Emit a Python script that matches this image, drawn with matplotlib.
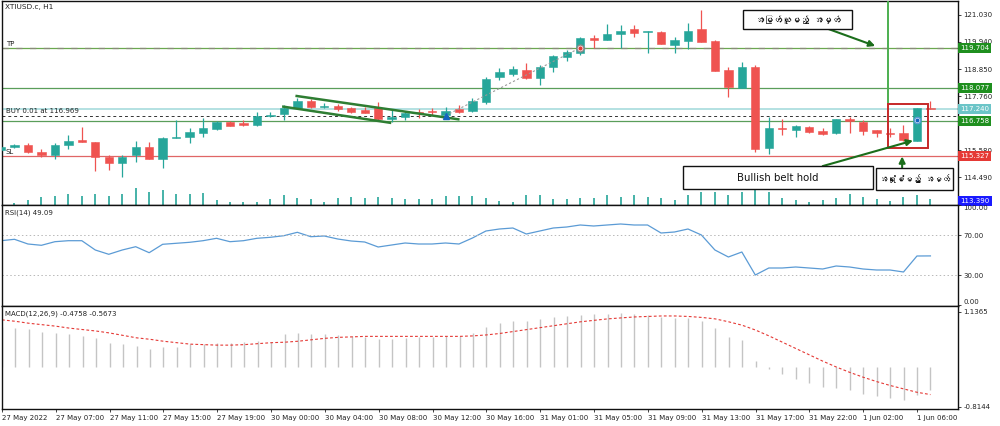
import numpy as np
import matplotlib
matplotlib.use("Agg")
import matplotlib.pyplot as plt
from matplotlib import font_manager
from matplotlib.ft2font import FT2Font
from matplotlib.patches import Rectangle

# ---------------- data ----------------
opens = [115.58, 115.69, 115.78, 115.51, 115.36, 115.78, 115.97, 115.90, 115.31, 115.04,
         115.36, 115.69, 115.23, 116.08, 116.10, 116.28, 116.42, 116.72, 116.66, 116.57,
         116.96, 117.02, 117.26, 117.57, 117.30, 117.36, 117.26, 117.20, 117.26, 116.85,
         116.91, 117.13, 117.15, 117.00, 117.22, 117.16, 117.53, 118.54, 118.65, 118.81,
         118.47, 118.94, 119.35, 119.51, 120.11, 120.02, 120.25, 120.45, 120.35, 120.36,
         119.82, 119.99, 120.45, 120.00, 118.81, 118.10, 118.94, 115.65, 116.44, 116.39,
         116.52, 116.35, 116.25, 116.85, 116.72, 116.39, 116.28, 116.28, 115.96, 117.26]
highs = [115.75, 115.82, 115.87, 115.61, 115.87, 116.18, 116.52, 115.92, 115.38, 115.38,
         115.94, 115.91, 116.10, 116.79, 116.45, 116.86, 116.76, 116.77, 116.79, 117.13,
         117.13, 117.40, 117.67, 117.62, 117.49, 117.44, 117.33, 117.33, 117.53, 117.20,
         117.13, 117.22, 117.26, 117.33, 117.39, 117.67, 118.54, 118.90, 118.96, 119.11,
         119.01, 119.41, 119.60, 120.13, 120.22, 120.67, 120.63, 120.63, 120.39, 120.37,
         120.15, 120.72, 121.23, 120.01, 118.94, 119.14, 119.01, 116.92, 116.82, 116.59,
         116.55, 116.46, 116.82, 116.90, 116.79, 116.39, 116.46, 116.59, 117.27, 117.55]
lows = [115.52, 115.66, 115.45, 115.31, 115.20, 115.61, 115.89, 114.74, 114.77, 114.48,
        115.11, 115.21, 114.84, 116.05, 115.85, 116.10, 116.40, 116.55, 116.56, 116.56,
        116.93, 116.79, 117.25, 117.29, 117.29, 117.16, 117.06, 117.06, 116.79, 116.72,
        116.79, 116.86, 116.99, 116.93, 117.06, 117.13, 117.44, 118.41, 118.55, 118.43,
        118.20, 118.74, 119.19, 119.41, 119.69, 120.02, 119.69, 120.13, 119.48, 119.84,
        119.48, 119.65, 119.93, 118.75, 117.73, 118.07, 115.51, 115.42, 116.19, 116.12,
        116.26, 116.19, 116.21, 116.25, 116.19, 116.09, 116.09, 115.96, 115.95, 117.22]
closes = [115.69, 115.78, 115.49, 115.38, 115.78, 115.94, 115.90, 115.31, 115.04, 115.31,
          115.69, 115.23, 116.08, 116.12, 116.32, 116.45, 116.72, 116.56, 116.57, 116.94,
          117.00, 117.26, 117.57, 117.30, 117.37, 117.24, 117.10, 117.09, 116.83, 116.91,
          117.07, 117.06, 117.10, 117.15, 117.10, 117.57, 118.43, 118.74, 118.85, 118.47,
          118.94, 119.38, 119.55, 120.09, 120.02, 120.25, 120.40, 120.29, 120.38, 119.86,
          120.02, 120.40, 119.95, 118.77, 118.11, 118.94, 115.61, 116.45, 116.42, 116.55,
          116.32, 116.23, 116.82, 116.76, 116.36, 116.25, 116.23, 115.98, 117.26, 117.24]
volumes = [600, 200, 500, 800, 900, 1100, 900, 1100, 900, 1100,
           1700, 1300, 1500, 1100, 1100, 1200, 500, 300, 300, 300,
           600, 1000, 700, 600, 300, 700, 800, 700, 800, 700,
           600, 600, 600, 900, 900, 900, 700, 400, 300, 1000,
           1000, 600, 600, 700, 700, 1000, 800, 1000, 800, 700,
           500, 1000, 1300, 1300, 1000, 1300, 1500, 1300, 700, 500,
           300, 500, 700, 1100, 800, 600, 400, 800, 1000, 600]
rsi = [64.3, 65.7, 61.0, 59.7, 63.3, 64.3, 64.3, 55.0, 50.7, 55.0,
       58.3, 52.3, 60.7, 61.7, 62.7, 64.3, 66.7, 63.3, 64.3, 66.7,
       67.7, 69.3, 72.7, 68.3, 69.0, 66.0, 64.0, 63.0, 58.0, 60.0,
       62.0, 61.0, 61.0, 62.0, 61.0, 67.0, 74.0, 76.0, 77.0, 71.0,
       74.0, 77.0, 78.0, 80.0, 79.0, 80.0, 81.0, 80.0, 80.0, 72.0,
       73.0, 76.0, 70.0, 55.0, 48.0, 53.0, 30.0, 37.0, 37.0, 38.0,
       37.0, 36.0, 39.0, 38.0, 36.0, 35.0, 35.0, 33.0, 49.0, 49.09]
macd_main = [0.82, 0.80, 0.78, 0.71, 0.69, 0.67, 0.64, 0.59, 0.50, 0.47,
             0.44, 0.38, 0.41, 0.42, 0.47, 0.47, 0.50, 0.50, 0.52, 0.54,
             0.52, 0.67, 0.69, 0.68, 0.67, 0.66, 0.64, 0.62, 0.58, 0.58,
             0.60, 0.61, 0.62, 0.63, 0.63, 0.70, 0.82, 0.90, 0.95, 0.95,
             0.98, 1.02, 1.05, 1.08, 1.09, 1.10, 1.11, 1.10, 1.08, 1.03,
             1.00, 1.00, 0.95, 0.80, 0.62, 0.55, 0.12, -0.05, -0.15, -0.25,
             -0.33, -0.41, -0.44, -0.48, -0.55, -0.60, -0.64, -0.68, -0.58, -0.4758]
macd_signal = [0.97, 0.94, 0.90, 0.87, 0.84, 0.80, 0.77, 0.74, 0.70, 0.65,
               0.60, 0.57, 0.53, 0.50, 0.47, 0.46, 0.45, 0.45, 0.46, 0.48,
               0.50, 0.51, 0.53, 0.56, 0.59, 0.61, 0.62, 0.63, 0.63, 0.63,
               0.63, 0.63, 0.63, 0.63, 0.63, 0.64, 0.66, 0.69, 0.73, 0.77,
               0.81, 0.85, 0.89, 0.93, 0.96, 0.99, 1.01, 1.03, 1.04, 1.05,
               1.05, 1.04, 1.02, 0.99, 0.93, 0.86, 0.76, 0.64, 0.51, 0.38,
               0.25, 0.12, 0.00, -0.11, -0.21, -0.30, -0.38, -0.45, -0.52, -0.5673]
x_tick_bars = [0, 4, 8, 12, 16, 20, 24, 28, 32, 36, 40, 44, 48, 52, 56, 60, 64, 68]
x_tick_labels = ["27 May 2022", "27 May 07:00", "27 May 11:00", "27 May 15:00", "27 May 19:00",
                 "30 May 00:00", "30 May 04:00", "30 May 08:00", "30 May 12:00", "30 May 16:00",
                 "31 May 01:00", "31 May 05:00", "31 May 09:00", "31 May 13:00", "31 May 17:00",
                 "31 May 22:00", "1 Jun 02:00", "1 Jun 06:00"]
price_ticks = [121.030, 119.940, 118.850, 117.760, 115.580, 114.490]
tp_price = 119.704
level_high = 118.077
bid_price = 117.240
buy_price = 116.969
level_low = 116.758
sl_price = 115.327
vol_label = 113.390
flag_upper = ([21.95, 33.95], [117.76, 116.82])
flag_lower = ([20.96, 28.88], [117.33, 116.68])
trade_bars = [33, 43]

# ---------------- fonts ----------------
def find_font_for(ch):
    for path in sorted(font_manager.findSystemFonts()):
        try:
            f = FT2Font(path)
            if ord(ch) in f.get_charmap():
                return path
        except Exception:
            pass
    return None

my_path = find_font_for("\u1021")
if my_path:
    font_manager.fontManager.addfont(my_path)
    my_family = [font_manager.FontProperties(fname=my_path).get_name(), "DejaVu Sans"]
else:
    my_family = ["DejaVu Sans"]

plt.rcParams["font.family"] = ["DejaVu Sans"]
FS = 5.0
TXT = "#222222"
UP = "#26a69a"
DN = "#ef5350"

W, H = 1000, 426
fig = plt.figure(figsize=(10, 4.26), dpi=100)
fig.patch.set_facecolor("white")

def px_axes(x0, y0, x1, y1, **kw):
    return fig.add_axes([x0 / W, 1 - y1 / H, (x1 - x0) / W, (y1 - y0) / H], **kw)

SP = 13.47
XL = ((2 - 1) / SP, (958 - 1) / SP)

ax_vol = px_axes(2, 1, 958, 205)
ax = px_axes(2, 1, 958, 205)
ax_rsi = px_axes(2, 205, 958, 306)
ax_macd = px_axes(2, 306, 958, 409)

for a in (ax, ax_rsi, ax_macd, ax_vol):
    a.set_xlim(*XL)

x = np.arange(len(opens))
o = np.array(opens); h = np.array(highs); l = np.array(lows); c = np.array(closes)
cols = np.where(c >= o, UP, DN)

# volume
ax_vol.set_ylim(0, 20400)
ax_vol.vlines(x, 0, volumes, colors=UP, lw=1.2)
ax_vol.axis("off")

# main
ax.patch.set_alpha(0)
ax.set_ylim(113.36, 121.595)
ax.vlines(x, l, h, colors=cols, lw=0.9, zorder=3)
body_lo = np.minimum(o, c)
body_h = np.maximum(np.abs(c - o), 0.035)
ax.bar(x, body_h, bottom=body_lo, width=0.62, color=cols, edgecolor=cols, lw=0.4, zorder=4)

ax.axhline(tp_price, color="#6aa84f", lw=0.9, zorder=2)
ax.axhline(tp_price, color="#8a8a7a", lw=0.9, ls=(0, (5, 6)), zorder=2)
ax.axhline(level_high, color="#5a9e5a", lw=0.9, zorder=2)
ax.axhline(bid_price, color="#9fd8da", lw=1.1, zorder=2)
ax.axhline(buy_price, color="#333333", lw=0.7, ls=(0, (3, 3)), zorder=2)
ax.axhline(level_low, color="#5a9e5a", lw=0.9, zorder=2)
ax.axhline(sl_price, color="#e06666", lw=0.9, zorder=2)

ax.plot(*flag_upper, color="#2e7d32", lw=1.8, zorder=5)
ax.plot(*flag_lower, color="#2e7d32", lw=1.8, zorder=5)
ax.plot(trade_bars, [buy_price, tp_price], color="#999999", lw=0.8, ls=(0, (2, 2)), zorder=5)
ax.plot([trade_bars[0]], [buy_price], marker="^", color="#1565c0", ms=4, zorder=6)
ax.plot([trade_bars[1]], [tp_price], marker="o", mfc="white", mec="#888", ms=5, zorder=6)
ax.plot([trade_bars[1]], [tp_price], marker="o", color="#e53935", ms=2, zorder=7)
ax.plot([68], [116.79], marker="o", mfc="white", mec="#5b9bd5", ms=4.5, zorder=6)
ax.plot([68], [116.79], marker="o", color="#1565c0", ms=1.8, zorder=7)

# vertical line and rectangle
ax.plot([65.85, 65.85], [117.44, 121.7], color="#4caf50", lw=1.4, zorder=5, clip_on=True)
ax.add_patch(Rectangle((65.85, 115.67), 68.82 - 65.85, 117.44 - 115.67, fill=False,
                       ec="#c62828", lw=1.4, zorder=6))

# left labels
def left_label(a, price, txt):
    a.annotate(txt, xy=(0.004, price), xycoords=("axes fraction", "data"), xytext=(0, 0.8),
               textcoords="offset points", va="bottom", ha="left", fontsize=FS, color=TXT, zorder=8)
left_label(ax, tp_price, "TP")
left_label(ax, buy_price, "BUY 0.01 at 116.969")
left_label(ax, sl_price, "SL")
ax.text(0.003, 0.985, "XTIUSD.c, H1", transform=ax.transAxes, va="top", ha="left",
        fontsize=FS + 0.3, color=TXT)

# annotation boxes
def box(a, x0, x1, y0, y1, txt, fs, bold, fam):
    a.add_patch(Rectangle((x0, y0), x1 - x0, y1 - y0, fc="white", ec="#111", lw=1.0, zorder=9))
    a.text((x0 + x1) / 2, (y0 + y1) / 2, txt, ha="center", va="center", fontsize=fs,
           fontweight="bold" if bold else "normal", family=fam, color="#111", zorder=10)

box(ax, 55.09, 63.18, 120.45, 121.23, "အမြတ်ယူမည့် အမှတ်", 6.5, True, my_family)
box(ax, 50.63, 64.74, 113.99, 114.93, "Bullish belt hold", 7.3, False, ["DejaVu Sans"])
box(ax, 64.96, 70.68, 113.96, 114.86, "အရှုံးခံမည့် အမှတ်", 6.0, True, my_family)

arrow = dict(arrowstyle="-|>", color="#1b6e1b", lw=1.5, mutation_scale=9, shrinkA=0, shrinkB=0)
ax.annotate("", xy=(64.9, 119.78), xytext=(61.3, 120.49), arrowprops=arrow, zorder=8)
ax.annotate("", xy=(67.7, 115.96), xytext=(61.0, 114.93), arrowprops=arrow, zorder=8)
ax.annotate("", xy=(66.9, 115.32), xytext=(66.9, 114.88), arrowprops=arrow, zorder=8)

# right axis of main
ax.yaxis.tick_right()
ax.set_yticks(price_ticks)
ax.set_yticklabels([f"{p:.3f}" for p in price_ticks])
ax.tick_params(axis="y", labelsize=FS, colors=TXT, length=2.5, width=0.6, pad=1.5)
ax.tick_params(axis="x", bottom=False, labelbottom=False)

def price_tag(a, y, txt, fc, va="center"):
    a.text(1.0025, y, txt, transform=a.get_yaxis_transform(), ha="left", va=va,
           fontsize=FS, color="white", clip_on=False, zorder=20,
           bbox=dict(boxstyle="square,pad=0.28", fc=fc, ec="none"))

price_tag(ax, tp_price, f"{tp_price:.3f}", "#1f8f1f")
price_tag(ax, level_high, f"{level_high:.3f}", "#1f8f1f")
price_tag(ax, bid_price, f"{bid_price:.3f}", "#6cc5c8")
price_tag(ax, level_low, f"{level_low:.3f}", "#1f8f1f")
price_tag(ax, sl_price, f"{sl_price:.3f}", "#e53935")

# RSI
ax_rsi.set_ylim(-1, 100)
ax_rsi.plot(x, rsi, color="#5b9bd5", lw=0.9)
for lv in (70, 30):
    ax_rsi.axhline(lv, color="#b8b8b8", lw=0.7, ls=(0, (1.5, 2.5)))
ax_rsi.yaxis.tick_right()
ax_rsi.set_yticks([100, 70, 30, 0])
ax_rsi.set_yticklabels(["100.00", "70.00", "30.00", "0.00"])
ax_rsi.tick_params(axis="y", labelsize=FS, colors=TXT, length=2.5, width=0.6, pad=1.5)
ax_rsi.tick_params(axis="x", bottom=False, labelbottom=False)
ylabs = ax_rsi.get_yticklabels()
ylabs[0].set_va("top")
ylabs[-1].set_va("bottom")
ax_rsi.text(0.003, 0.96, f"RSI(14) {rsi[-1]:.2f}", transform=ax_rsi.transAxes, va="top",
            ha="left", fontsize=FS, color=TXT)

# MACD
ax_macd.set_ylim(-0.864, 1.255)
ax_macd.vlines(x, 0, macd_main, colors="#c4c4c4", lw=1.0)
ax_macd.plot(x, macd_signal, color="#e53935", lw=0.8, ls=(0, (2.5, 2)))
ax_macd.yaxis.tick_right()
ax_macd.set_yticks([1.1365, -0.8144])
ax_macd.set_yticklabels(["1.1365", "-0.8144"])
ax_macd.tick_params(axis="y", labelsize=FS, colors=TXT, length=2.5, width=0.6, pad=1.5)
ax_macd.set_xticks(x_tick_bars)
ax_macd.set_xticklabels(x_tick_labels, ha="left")
ax_macd.tick_params(axis="x", labelsize=FS, colors=TXT, length=2.5, width=0.6, pad=1.5)
ax_macd.text(0.003, 0.96, f"MACD(12,26,9) {macd_main[-1]:.4f} {macd_signal[-1]:.4f}",
             transform=ax_macd.transAxes, va="top", ha="left", fontsize=FS, color=TXT)

# bottom-of-main volume label
price_tag(ax, vol_label, f"{vol_label:.3f}", "#1a1aff", va="bottom")

for a in (ax, ax_rsi, ax_macd):
    for s in a.spines.values():
        s.set_color("#111111")
        s.set_linewidth(1.0)

fig.savefig("out.png", dpi=100, facecolor="white")
